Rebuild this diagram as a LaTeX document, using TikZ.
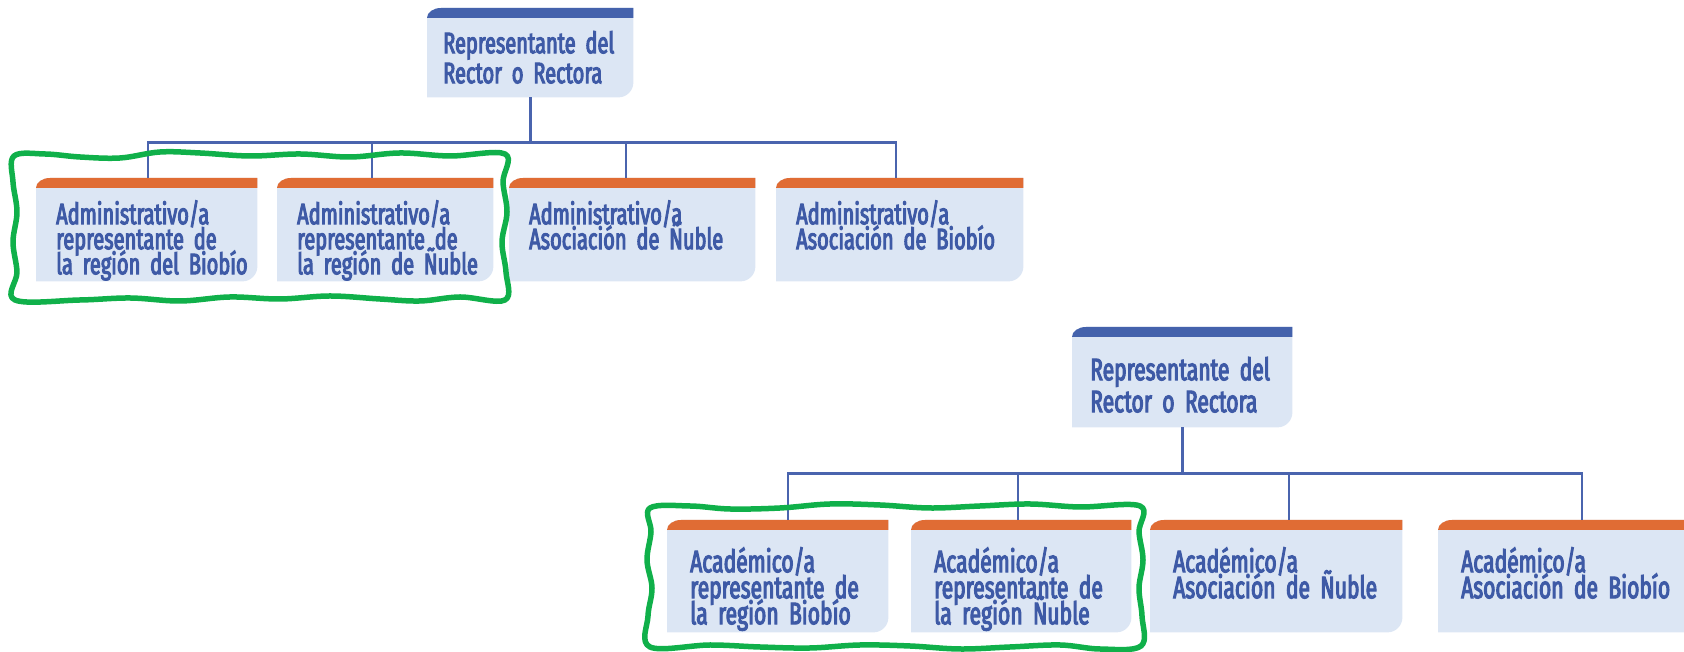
\documentclass[tikz,border=0pt]{standalone}
\usepackage{fontspec}
\setmainfont{Fira Sans}[FakeStretch=0.68, FakeBold=3.4]
\usepackage{tikz}
\usetikzlibrary{backgrounds}
\definecolor{fondocaja}{HTML}{DCE6F4}
\definecolor{barraazul}{HTML}{4462AC}
\definecolor{barranaranja}{HTML}{E06C34}
\definecolor{textoazul}{HTML}{3E5AA6}
\definecolor{linea}{HTML}{4A64AE}
\definecolor{verde}{HTML}{10B04A}
\tikzset{
	basic/.style = {anchor=north west, inner sep=0pt, align=left, text=textoazul},
	jefe1/.style = {basic, font=\fontsize{29.5}{30}\selectfont, text height=45pt, text depth=44pt, execute at begin node={\leftskip=16pt\lineskiplimit=-60pt\relax}},
	hijo1/.style = {basic, font=\fontsize{29.5}{25}\selectfont, text height=46pt, text depth=57pt, execute at begin node={\leftskip=20pt\lineskiplimit=-60pt\relax}},
	jefe2/.style = {basic, font=\fontsize{31}{32}\selectfont, text height=53pt, text depth=47pt, execute at begin node={\leftskip=18pt\lineskiplimit=-60pt\relax}},
	hijo2/.style = {basic, font=\fontsize{31}{26}\selectfont, text height=52pt, text depth=60pt, execute at begin node={\leftskip=23pt\lineskiplimit=-60pt\relax}},
	conector/.style = {draw=linea, line width=2.6pt},
	marca/.style = {draw=verde, line width=5.5pt, line join=round}
}

\begin{document}
\begin{tikzpicture}[x=1pt, y=1pt]
	\useasboundingbox (0,0) rectangle (1684,652);

	% first tree: administrativos
	\node[jefe1, text width=206pt] (r1) at (427,644) {Representante del\\Rector o Rectora};
	\node[hijo1, text width=221pt] (a1) at (36,474) {Administrativo/a\\representante de\\la región del Biobío};
	\node[hijo1, text width=216pt] (a2) at (277,474) {Administrativo/a\\representante de\\la región de Ñuble};
	\node[hijo1, text width=246pt] (a3) at (509,474) {Administrativo/a\\Asociación de Ñuble};
	\node[hijo1, text width=247pt] (a4) at (776,474) {Administrativo/a\\Asociación de Biobío};

	% second tree: academicos
	\node[jefe2, text width=220pt] (r2) at (1072,325) {Representante del\\Rector o Rectora};
	\node[hijo2, text width=221pt] (b1) at (667,132) {Académico/a\\representante de\\la región Biobío};
	\node[hijo2, text width=220pt] (b2) at (911,132) {Académico/a\\representante de\\la región Ñuble};
	\node[hijo2, text width=252pt] (b3) at (1150,132) {Académico/a\\Asociación de Ñuble};
	\node[hijo2, text width=260pt] (b4) at (1438,132) {Académico/a\\Asociación de Biobío};

	% boxes behind the text, with the coloured bar on top
	\begin{scope}[on background layer]
		\foreach \n/\c in {r1/barraazul,a1/barranaranja,a2/barranaranja,a3/barranaranja,a4/barranaranja,
			r2/barraazul,b1/barranaranja,b2/barranaranja,b3/barranaranja,b4/barranaranja}{
			\fill[fondocaja] (\n.south west) -- ([yshift=-10pt]\n.north west)
				arc[start angle=180, end angle=90, x radius=14pt, y radius=10pt] -- (\n.north east)
				-- ([yshift=15pt]\n.south east) arc[start angle=0, end angle=-90, radius=15pt] -- cycle;
			\fill[\c] ([yshift=-10pt]\n.north west)
				arc[start angle=180, end angle=90, x radius=14pt, y radius=10pt] -- (\n.north east)
				-- ([yshift=-10pt]\n.north east) -- cycle;
		}
	\end{scope}

	% lines from each root to its members
	\draw[conector] (r1.south) -- ++(0,-45) coordinate (u1);
	\foreach \h/\dx in {a1/112,a2/95,a3/117,a4/120}
	\draw[conector] ([xshift=\dx pt]\h.north west) |- (u1);

	\draw[conector] (r2.south) -- ++(0,-46) coordinate (u2);
	\foreach \h/\dx in {b1/121,b2/107,b3/139,b4/144}
	\draw[conector] ([xshift=\dx pt]\h.north west) |- (u2);

	% green marks round the regional members
	\draw[marca] plot[smooth cycle, tension=0.6] coordinates {
		(14,496) (45,498) (80,495) (120,494) (160,500) (200,499) (250,496) (300,498) (350,495) (400,499) (450,496) (505,498)
		(503,470) (507,440) (502,410) (506,380) (505,352)
		(460,355) (420,351) (380,353) (330,356) (280,353) (230,355) (180,351) (130,354) (80,352) (15,352)
		(17,380) (13,410) (17,440) (13,470)};
	\draw[marca] plot[smooth cycle, tension=0.6] coordinates {
		(650,144) (690,146) (730,143) (780,144) (830,148) (880,147) (930,144) (980,146) (1030,148) (1080,145) (1140,146)
		(1139,120) (1143,92) (1139,64) (1142,36) (1141,6)
		(1100,3) (1060,7) (1010,5) (960,3) (910,6) (860,7) (810,4) (760,5) (710,7) (650,5)
		(648,36) (652,64) (647,92) (651,120)};
\end{tikzpicture}
\end{document}
